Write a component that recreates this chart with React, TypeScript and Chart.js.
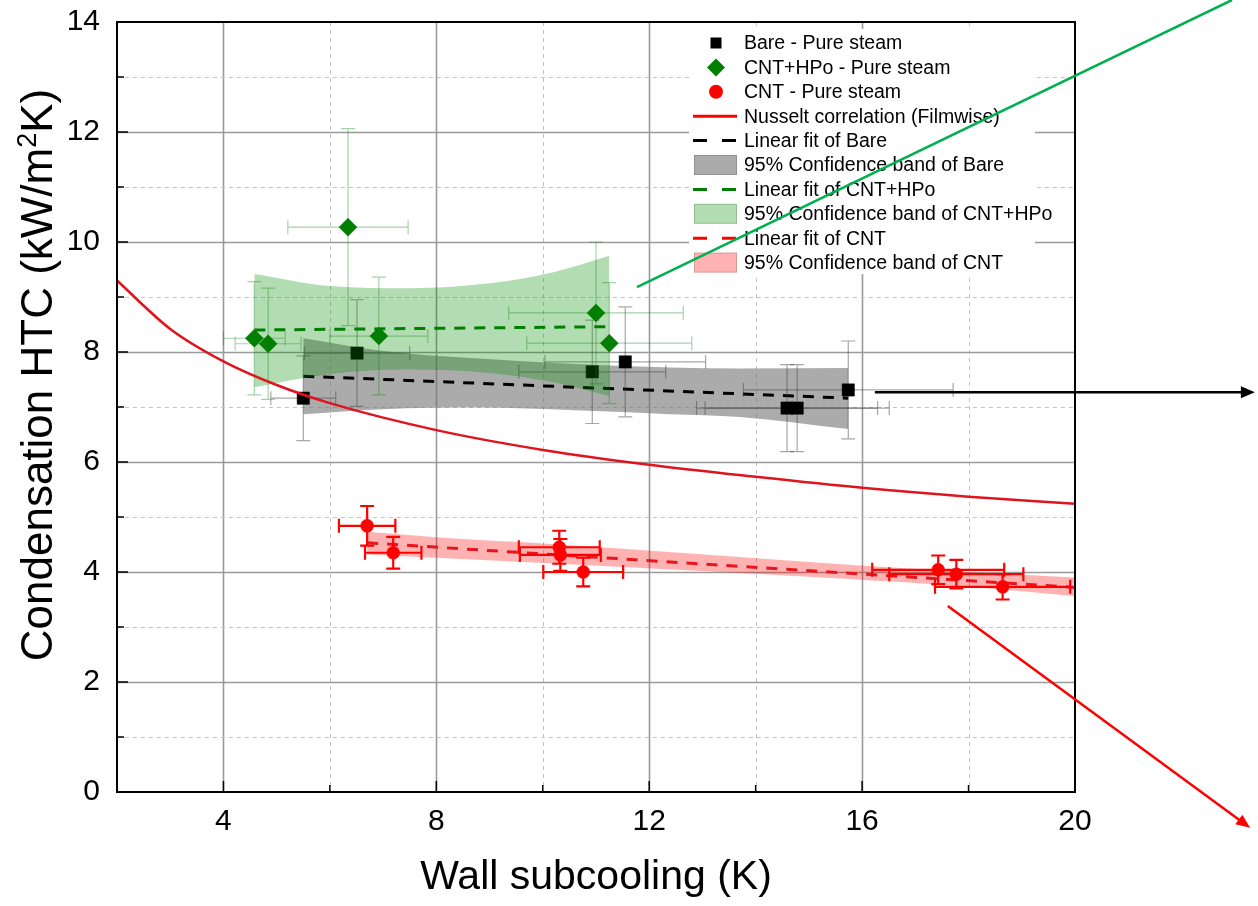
import React, { useEffect, useRef } from 'react';
import { Chart, registerables } from 'chart.js';

Chart.register(...registerables);

const FONT = '"Liberation Sans", Arial, Helvetica, sans-serif';

// ---------- axes ----------
const xMin = 2;
const xMax = 20;
const xStep = 2;
const xLabelEvery = 4;
const yMin = 0;
const yMax = 14;
const yStep = 1;
const yLabelEvery = 2;

const xTitle = 'Wall subcooling (K)';
const yTitleMain = 'Condensation HTC (kW/m';
const yTitleSup = '2';
const yTitleTail = 'K)';

// ---------- Bare - Pure steam ----------
const bareX = [5.5, 6.51, 10.93, 11.55, 14.59, 14.78, 15.74];
const bareY = [7.16, 7.98, 7.64, 7.82, 6.98, 6.98, 7.31];
const bareXErr = [0.61, 0.99, 1.38, 1.51, 1.7, 1.73, 1.97];
const bareYErr = [0.77, 0.97, 0.94, 1.0, 0.79, 0.79, 0.89];

// ---------- CNT+HPo - Pure steam ----------
const hpoX = [4.58, 4.84, 6.34, 6.92, 11.0, 11.25];
const hpoY = [8.25, 8.15, 10.27, 8.29, 8.71, 8.16];
const hpoXErr = [0.58, 0.62, 1.13, 0.92, 1.64, 1.55];
const hpoYErr = [1.03, 1.01, 1.79, 1.07, 1.29, 1.1];

// ---------- CNT - Pure steam ----------
const cntX = [6.7, 7.19, 10.31, 10.33, 10.76, 17.43, 17.77, 18.64];
const cntY = [4.84, 4.35, 4.45, 4.31, 4.0, 4.04, 3.96, 3.73];
const cntXErr = [0.53, 0.53, 0.76, 0.76, 0.75, 1.24, 1.26, 1.27];
const cntYErr = [0.36, 0.29, 0.3, 0.29, 0.26, 0.26, 0.26, 0.23];

// ---------- Nusselt correlation (Filmwise) ----------
const nusX = [2, 3, 4, 5, 6, 8, 10, 12, 14, 16, 18, 20];
const nusY = [9.3, 8.42, 7.83, 7.4, 7.07, 6.58, 6.22, 5.95, 5.73, 5.53, 5.37, 5.24];

// ---------- linear fits ----------
const bareFitX = [5.5, 15.74];
const bareFitY = [7.56, 7.16];
const hpoFitX = [4.58, 11.25];
const hpoFitY = [8.4, 8.46];
const cntFitX = [6.7, 20.0];
const cntFitY = [4.53, 3.72];

// ---------- 95% confidence bands ----------
const bareBandX = [5.5, 7, 8.8, 10.6, 12.4, 13.7, 15.74];
const bareBandUp = [8.25, 8.02, 7.88, 7.78, 7.72, 7.7, 7.71];
const bareBandLo = [6.87, 6.96, 6.99, 6.94, 6.87, 6.82, 6.6];

const hpoBandX = [4.58, 6, 7.5, 9, 10.2, 11.25];
const hpoBandUp = [9.42, 9.2, 9.16, 9.25, 9.45, 9.75];
const hpoBandLo = [7.36, 7.6, 7.68, 7.62, 7.45, 7.2];

const cntBandX = [6.7, 8, 10.3, 12.7, 15.6, 18, 20];
const cntBandUp = [4.73, 4.63, 4.5, 4.34, 4.14, 4.0, 3.9];
const cntBandLo = [4.32, 4.26, 4.15, 4.03, 3.88, 3.73, 3.56];

// ---------- annotation arrows (data coordinates, start -> end) ----------
const annoGreenX = [11.77, 22.95];
const annoGreenY = [9.18, 14.4];
const annoBlackX = [16.24, 23.38];
const annoBlackY = [7.27, 7.27];
const annoRedX = [17.61, 23.29];
const annoRedY = [3.38, -0.65];

// ---------- legend ----------
const legendLabels = [
  'Bare - Pure steam',
  'CNT+HPo - Pure steam',
  'CNT - Pure steam',
  'Nusselt correlation (Filmwise)',
  'Linear fit of Bare',
  '95% Confidence band of Bare',
  'Linear fit of CNT+HPo',
  '95% Confidence band of CNT+HPo',
  'Linear fit of CNT',
  '95% Confidence band of CNT',
];

const BLACK = '#000000';
const GREEN = '#007f00';
const RED = '#ff0000';
const GRAY_BAND = 'rgba(115,115,115,0.6)';
const GREEN_BAND = 'rgba(0,140,0,0.3)';
const RED_BAND = 'rgba(255,0,0,0.3)';

const legendKinds = [
  { kind: 'rect', color: BLACK },
  { kind: 'diamond', color: GREEN },
  { kind: 'circle', color: RED },
  { kind: 'line', color: RED },
  { kind: 'dash', color: BLACK },
  { kind: 'box', color: GRAY_BAND },
  { kind: 'dash', color: GREEN },
  { kind: 'box', color: GREEN_BAND },
  { kind: 'dash', color: RED },
  { kind: 'box', color: RED_BAND },
];

const zip = (xs: number[], ys: number[]) => xs.map((x, i) => ({ x, y: ys[i] }));

const gridPlugin = {
  id: 'customGrid',
  beforeDatasetsDraw(chart: any) {
    const { ctx, chartArea: a, scales } = chart;
    const xs = scales.x;
    const ys = scales.y;
    ctx.save();
    xs.ticks.forEach((t: any) => {
      const v = t.value;
      if (v <= xMin || v >= xMax) return;
      const px = Math.round(xs.getPixelForValue(v)) + 0.5;
      const major = v % xLabelEvery === 0;
      ctx.beginPath();
      ctx.strokeStyle = major ? '#9a9a9a' : '#c4c4c4';
      ctx.lineWidth = major ? 1.6 : 1;
      ctx.setLineDash(major ? [] : [4, 4]);
      ctx.moveTo(px, a.top);
      ctx.lineTo(px, a.bottom);
      ctx.stroke();
    });
    ys.ticks.forEach((t: any) => {
      const v = t.value;
      if (v <= yMin || v >= yMax) return;
      const py = Math.round(ys.getPixelForValue(v)) + 0.5;
      const major = v % yLabelEvery === 0;
      ctx.beginPath();
      ctx.strokeStyle = major ? '#9a9a9a' : '#c4c4c4';
      ctx.lineWidth = major ? 1.6 : 1;
      ctx.setLineDash(major ? [] : [4, 4]);
      ctx.moveTo(a.left, py);
      ctx.lineTo(a.right, py);
      ctx.stroke();
    });
    ctx.restore();
  },
  afterDatasetsDraw(chart: any) {
    const { ctx, chartArea: a, scales } = chart;
    const xs = scales.x;
    const ys = scales.y;
    ctx.save();
    ctx.strokeStyle = '#000';
    ctx.lineWidth = 1.5;
    ctx.setLineDash([]);
    xs.ticks.forEach((t: any) => {
      const v = t.value;
      const px = xs.getPixelForValue(v);
      const len = v % xLabelEvery === 0 ? 11 : 7;
      ctx.beginPath();
      ctx.moveTo(px, a.bottom);
      ctx.lineTo(px, a.bottom - len);
      ctx.stroke();
    });
    ys.ticks.forEach((t: any) => {
      const v = t.value;
      const py = ys.getPixelForValue(v);
      const len = v % yLabelEvery === 0 ? 11 : 7;
      ctx.beginPath();
      ctx.moveTo(a.left, py);
      ctx.lineTo(a.left + len, py);
      ctx.stroke();
    });
    ctx.lineWidth = 2;
    ctx.strokeRect(a.left, a.top, a.right - a.left, a.bottom - a.top);
    ctx.restore();
  },
};

const errorBarPlugin = {
  id: 'errorBars',
  beforeDatasetDraw(chart: any, args: any) {
    const ds: any = chart.data.datasets[args.index];
    if (!ds.errX) return;
    const { ctx, chartArea: a, scales } = chart;
    const xs = scales.x;
    const ys = scales.y;
    ctx.save();
    ctx.beginPath();
    ctx.rect(a.left, a.top, a.right - a.left, a.bottom - a.top);
    ctx.clip();
    ctx.strokeStyle = ds.errColor;
    ctx.lineWidth = ds.errWidth;
    ctx.setLineDash([]);
    const c = ds.errCap;
    ds.data.forEach((p: any, i: number) => {
      const px = xs.getPixelForValue(p.x);
      const py = ys.getPixelForValue(p.y);
      const x0 = xs.getPixelForValue(p.x - ds.errX[i]);
      const x1 = xs.getPixelForValue(p.x + ds.errX[i]);
      const y0 = ys.getPixelForValue(p.y - ds.errY[i]);
      const y1 = ys.getPixelForValue(p.y + ds.errY[i]);
      ctx.beginPath();
      ctx.moveTo(x0, py);
      ctx.lineTo(x1, py);
      ctx.moveTo(x0, py - c);
      ctx.lineTo(x0, py + c);
      ctx.moveTo(x1, py - c);
      ctx.lineTo(x1, py + c);
      ctx.moveTo(px, y0);
      ctx.lineTo(px, y1);
      ctx.moveTo(px - c, y0);
      ctx.lineTo(px + c, y0);
      ctx.moveTo(px - c, y1);
      ctx.lineTo(px + c, y1);
      ctx.stroke();
    });
    ctx.restore();
  },
};

function arrow(ctx: any, x0: number, y0: number, x1: number, y1: number, color: string, head: boolean) {
  ctx.save();
  ctx.strokeStyle = color;
  ctx.fillStyle = color;
  ctx.lineWidth = 2.5;
  ctx.setLineDash([]);
  const ang = Math.atan2(y1 - y0, x1 - x0);
  const hl = 14;
  const hw = 6;
  const ex = head ? x1 - Math.cos(ang) * (hl - 2) : x1;
  const ey = head ? y1 - Math.sin(ang) * (hl - 2) : y1;
  ctx.beginPath();
  ctx.moveTo(x0, y0);
  ctx.lineTo(ex, ey);
  ctx.stroke();
  if (head) {
    ctx.beginPath();
    ctx.moveTo(x1, y1);
    ctx.lineTo(x1 - Math.cos(ang) * hl - Math.sin(ang) * hw, y1 - Math.sin(ang) * hl + Math.cos(ang) * hw);
    ctx.lineTo(x1 - Math.cos(ang) * hl + Math.sin(ang) * hw, y1 - Math.sin(ang) * hl - Math.cos(ang) * hw);
    ctx.closePath();
    ctx.fill();
  }
  ctx.restore();
}

const overlayPlugin = {
  id: 'overlay',
  afterDraw(chart: any) {
    const { ctx, chartArea: a, scales } = chart;
    const xs = scales.x;
    const ys = scales.y;

    // legend
    const left = a.right - 382;
    const top = a.top + 7;
    ctx.save();
    ctx.fillStyle = '#ffffff';
    ctx.fillRect(left - 4, top, 346, 245);
    ctx.font = `19.5px ${FONT}`;
    ctx.textBaseline = 'middle';
    ctx.textAlign = 'left';
    legendLabels.forEach((label, i) => {
      const cy = a.top + 21 + i * 24.4;
      const k = legendKinds[i];
      const mx = left + 23;
      ctx.setLineDash([]);
      if (k.kind === 'rect') {
        ctx.fillStyle = k.color;
        ctx.fillRect(mx - 5.5, cy - 5.5, 11, 11);
      } else if (k.kind === 'diamond') {
        ctx.fillStyle = k.color;
        ctx.beginPath();
        ctx.moveTo(mx - 9, cy);
        ctx.lineTo(mx, cy - 9);
        ctx.lineTo(mx + 9, cy);
        ctx.lineTo(mx, cy + 9);
        ctx.closePath();
        ctx.fill();
      } else if (k.kind === 'circle') {
        ctx.fillStyle = k.color;
        ctx.beginPath();
        ctx.arc(mx, cy, 7, 0, Math.PI * 2);
        ctx.fill();
      } else if (k.kind === 'line') {
        ctx.strokeStyle = k.color;
        ctx.lineWidth = 3;
        ctx.beginPath();
        ctx.moveTo(left, cy);
        ctx.lineTo(left + 44, cy);
        ctx.stroke();
      } else if (k.kind === 'dash') {
        ctx.strokeStyle = k.color;
        ctx.lineWidth = 3;
        ctx.beginPath();
        ctx.moveTo(left, cy);
        ctx.lineTo(left + 14, cy);
        ctx.moveTo(left + 29, cy);
        ctx.lineTo(left + 43, cy);
        ctx.stroke();
      } else if (k.kind === 'box') {
        ctx.fillStyle = k.color;
        ctx.fillRect(left + 1, cy - 10, 43, 20);
        ctx.strokeStyle = 'rgba(0,0,0,0.15)';
        ctx.lineWidth = 1;
        ctx.strokeRect(left + 1.5, cy - 9.5, 42, 19);
      }
      ctx.fillStyle = '#000';
      ctx.fillText(label, left + 51, cy + 1);
    });
    ctx.restore();

    // annotations
    const px = (v: number) => xs.getPixelForValue(v);
    const py = (v: number) => ys.getPixelForValue(v);
    arrow(ctx, px(annoGreenX[0]), py(annoGreenY[0]), px(annoGreenX[1]), py(annoGreenY[1]), '#00b050', false);
    arrow(ctx, px(annoBlackX[0]), py(annoBlackY[0]), px(annoBlackX[1]), py(annoBlackY[1]), '#000000', true);
    arrow(ctx, px(annoRedX[0]), py(annoRedY[0]), px(annoRedX[1]), py(annoRedY[1]), '#ff0000', true);

    // y title with superscript
    ctx.save();
    ctx.translate(36, 375);
    ctx.rotate(-Math.PI / 2);
    ctx.fillStyle = '#000';
    ctx.textBaseline = 'alphabetic';
    ctx.textAlign = 'left';
    const big = `44px ${FONT}`;
    const small = `27px ${FONT}`;
    ctx.font = big;
    const w1 = ctx.measureText(yTitleMain).width;
    const w3 = ctx.measureText(yTitleTail).width;
    ctx.font = small;
    const w2 = ctx.measureText(yTitleSup).width;
    const total = w1 + w2 + w3;
    let x0 = -total / 2;
    const base = 15.5;
    ctx.font = big;
    ctx.fillText(yTitleMain, x0, base);
    x0 += w1;
    ctx.font = small;
    ctx.fillText(yTitleSup, x0, base - 16);
    x0 += w2;
    ctx.font = big;
    ctx.fillText(yTitleTail, x0, base);
    ctx.restore();
  },
};

export default function App() {
  const ref = useRef<HTMLCanvasElement>(null);
  useEffect(() => {
    document.body.style.margin = '0';
    const bandCommon = {
      type: 'line',
      showLine: true,
      pointRadius: 0,
      borderWidth: 0,
      borderColor: 'rgba(0,0,0,0)',
      cubicInterpolationMode: 'monotone',
    };
    const chart = new Chart(ref.current as HTMLCanvasElement, {
      type: 'scatter',
      data: {
        datasets: [
          // bands (upper fills to next = lower)
          { ...bandCommon, label: 'bareUp', data: zip(bareBandX, bareBandUp), fill: '+1', backgroundColor: GRAY_BAND, order: 30 },
          { ...bandCommon, label: 'bareLo', data: zip(bareBandX, bareBandLo), fill: false, order: 31 },
          { ...bandCommon, label: 'hpoUp', data: zip(hpoBandX, hpoBandUp), fill: '+1', backgroundColor: GREEN_BAND, order: 15 },
          { ...bandCommon, label: 'hpoLo', data: zip(hpoBandX, hpoBandLo), fill: false, order: 16 },
          { ...bandCommon, label: 'cntUp', data: zip(cntBandX, cntBandUp), fill: '+1', backgroundColor: RED_BAND, order: 8 },
          { ...bandCommon, label: 'cntLo', data: zip(cntBandX, cntBandLo), fill: false, order: 9 },
          // fits
          { type: 'line', label: 'Linear fit of Bare', data: zip(bareFitX, bareFitY), borderColor: BLACK, borderWidth: 3, borderDash: [11, 9], pointRadius: 0, fill: false, order: 25 },
          { type: 'line', label: 'Linear fit of CNT+HPo', data: zip(hpoFitX, hpoFitY), borderColor: GREEN, borderWidth: 3, borderDash: [11, 9], pointRadius: 0, fill: false, order: 12 },
          { type: 'line', label: 'Linear fit of CNT', data: zip(cntFitX, cntFitY), borderColor: '#e8141e', borderWidth: 3, borderDash: [11, 9], pointRadius: 0, fill: false, order: 6 },
          // Nusselt
          { type: 'line', label: 'Nusselt correlation (Filmwise)', data: zip(nusX, nusY), borderColor: '#e0141e', borderWidth: 2.5, pointRadius: 0, fill: false, cubicInterpolationMode: 'monotone', order: 5 },
          // markers
          {
            label: 'Bare - Pure steam', data: zip(bareX, bareY), pointStyle: 'rect', pointRadius: 8.7,
            backgroundColor: BLACK, borderColor: BLACK, borderWidth: 0.5, order: 20,
            errX: bareXErr, errY: bareYErr, errColor: 'rgba(60,60,60,0.45)', errWidth: 1.2, errCap: 7,
          } as any,
          {
            label: 'CNT+HPo - Pure steam', data: zip(hpoX, hpoY), pointStyle: 'rectRot', pointRadius: 9,
            backgroundColor: GREEN, borderColor: GREEN, borderWidth: 0.5, order: 10,
            errX: hpoXErr, errY: hpoYErr, errColor: 'rgba(0,128,0,0.35)', errWidth: 1.2, errCap: 7,
          } as any,
          {
            label: 'CNT - Pure steam', data: zip(cntX, cntY), pointStyle: 'circle', pointRadius: 6.5,
            backgroundColor: RED, borderColor: RED, borderWidth: 0.5, order: 0,
            errX: cntXErr, errY: cntYErr, errColor: RED, errWidth: 2.2, errCap: 7,
          } as any,
        ] as any,
      },
      options: {
        responsive: false,
        animation: false,
        devicePixelRatio: 1,
        layout: { padding: { left: 0, top: 22, right: 183, bottom: 0 } },
        plugins: { legend: { display: false }, tooltip: { enabled: false } },
        scales: {
          x: {
            type: 'linear',
            min: xMin,
            max: xMax,
            afterFit: (s: any) => { s.height = 114; s.paddingLeft = 0; s.paddingRight = 0; },
            grid: { display: false, drawTicks: false },
            border: { display: false },
            ticks: {
              stepSize: xStep,
              autoSkip: false,
              maxRotation: 0,
              padding: 12,
              color: '#000',
              font: { family: FONT, size: 30 },
              callback: (v: any) => (Number(v) % xLabelEvery === 0 && Number(v) !== xMin ? String(v) : ''),
            },
            title: {
              display: true,
              text: xTitle,
              color: '#000',
              font: { family: FONT, size: 41 },
              padding: { top: 0, bottom: 4 },
            },
          },
          y: {
            type: 'linear',
            min: yMin,
            max: yMax,
            afterFit: (s: any) => { s.width = 117; s.paddingTop = 0; s.paddingBottom = 0; },
            grid: { display: false, drawTicks: false },
            border: { display: false },
            ticks: {
              stepSize: yStep,
              autoSkip: false,
              padding: 17,
              color: '#000',
              font: { family: FONT, size: 30 },
              callback: (v: any) => (Number(v) % yLabelEvery === 0 ? String(v) : ''),
            },
          },
        },
      } as any,
      plugins: [gridPlugin, errorBarPlugin, overlayPlugin],
    });
    return () => chart.destroy();
  }, []);
  return (
    <div style={{ width: 1258, height: 906 }}>
      <canvas ref={ref} width={1258} height={906} style={{ display: 'block', width: 1258, height: 906 }} />
    </div>
  );
}
